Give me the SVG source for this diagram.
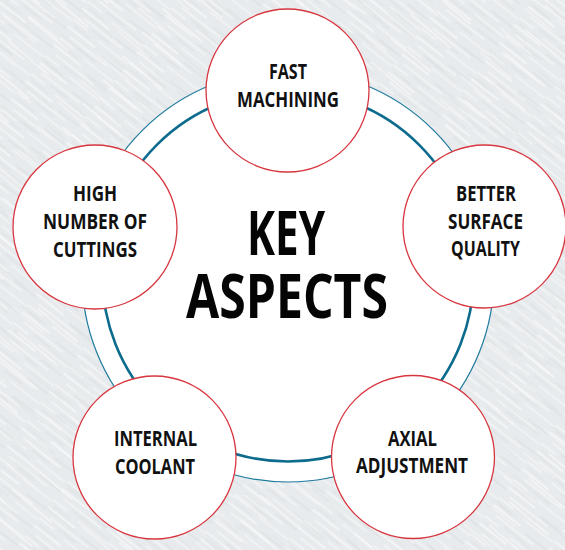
<svg xmlns="http://www.w3.org/2000/svg" width="565" height="550" viewBox="0 0 565 550">
  <defs>
    <!-- brushed-metal streaks, two layers with different periods -->
    <pattern id="brushed" patternUnits="userSpaceOnUse" width="70" height="23" patternTransform="rotate(38)">
      <rect width="70" height="23" fill="#e8ebed"/>
      <line x1="0" y1="2" x2="34" y2="2" stroke="#f6f7f8" stroke-width="1.3"/>
      <line x1="44" y1="5" x2="70" y2="5" stroke="#dadde0" stroke-width="0.9"/>
      <line x1="8" y1="9" x2="56" y2="9" stroke="#f8f9fa" stroke-width="1.1"/>
      <line x1="22" y1="13" x2="44" y2="13" stroke="#d9dce0" stroke-width="0.8"/>
      <line x1="0" y1="16" x2="18" y2="16" stroke="#f3f5f6" stroke-width="1.5"/>
      <line x1="32" y1="18" x2="70" y2="18" stroke="#f7f8f9" stroke-width="1"/>
      <line x1="4" y1="21" x2="26" y2="21" stroke="#dcdfe2" stroke-width="0.8"/>
    </pattern>
    <pattern id="brushed2" patternUnits="userSpaceOnUse" width="97" height="31" patternTransform="rotate(40) translate(13 7)">
      <line x1="0" y1="3" x2="41" y2="3" stroke="#fbfcfc" stroke-width="1.2" stroke-opacity="0.7"/>
      <line x1="55" y1="11" x2="97" y2="11" stroke="#d5d9dc" stroke-width="0.8" stroke-opacity="0.6"/>
      <line x1="20" y1="19" x2="72" y2="19" stroke="#fbfcfc" stroke-width="1.4" stroke-opacity="0.7"/>
      <line x1="6" y1="27" x2="30" y2="27" stroke="#d5d9dc" stroke-width="0.8" stroke-opacity="0.6"/>
    </pattern>
    <style>
      .bubble { fill: #ffffff; stroke: #d8363f; stroke-width: 1.3; }
      .label { font-family: "Open Sans", "Liberation Sans", sans-serif; font-weight: 700; font-size: 21px; fill: #111111; text-anchor: middle; }
      .title { font-family: "Open Sans", "Liberation Sans", sans-serif; font-weight: 700; font-size: 61px; fill: #050505; text-anchor: middle; }
    </style>
  </defs>

  <rect width="565" height="550" fill="url(#brushed)"/>
  <rect width="565" height="550" fill="url(#brushed2)"/>

  <!-- central hub with its double ring -->
  <g id="hub">
    <circle cx="288" cy="276" r="206" fill="#ffffff" stroke="#1f7b9d" stroke-width="1.2"/>
    <circle cx="288" cy="276" r="185.5" fill="none" stroke="#0d6b8d" stroke-width="2.6"/>
    <text class="title" x="286" y="255" textLength="78" lengthAdjust="spacingAndGlyphs">KEY</text>
    <text class="title" x="287" y="318" textLength="202" lengthAdjust="spacingAndGlyphs">ASPECTS</text>
  </g>

  <g id="connectors"/>

  <g id="fast-machining">
    <circle class="bubble" cx="287.5" cy="90.5" r="81.5"/>
    <text class="label" x="288" y="79" textLength="38" lengthAdjust="spacingAndGlyphs">FAST</text>
    <text class="label" x="288" y="107" textLength="102" lengthAdjust="spacingAndGlyphs">MACHINING</text>
  </g>

  <g id="high-number-of-cuttings">
    <circle class="bubble" cx="95" cy="227" r="82"/>
    <text class="label" x="95" y="201" textLength="44" lengthAdjust="spacingAndGlyphs">HIGH</text>
    <text class="label" x="95" y="229" textLength="104" lengthAdjust="spacingAndGlyphs">NUMBER OF</text>
    <text class="label" x="95" y="257" textLength="84" lengthAdjust="spacingAndGlyphs">CUTTINGS</text>
  </g>

  <g id="better-surface-quality">
    <circle class="bubble" cx="484.5" cy="226.5" r="81.5"/>
    <text class="label" x="486" y="201" textLength="60" lengthAdjust="spacingAndGlyphs">BETTER</text>
    <text class="label" x="485.5" y="229" textLength="75" lengthAdjust="spacingAndGlyphs">SURFACE</text>
    <text class="label" x="485.5" y="256" textLength="69" lengthAdjust="spacingAndGlyphs">QUALITY</text>
  </g>

  <g id="internal-coolant">
    <circle class="bubble" cx="154.5" cy="457.5" r="81.5"/>
    <text class="label" x="155.5" y="446" textLength="83" lengthAdjust="spacingAndGlyphs">INTERNAL</text>
    <text class="label" x="155" y="474" textLength="80" lengthAdjust="spacingAndGlyphs">COOLANT</text>
  </g>

  <g id="axial-adjustment">
    <circle class="bubble" cx="413" cy="457" r="81.5"/>
    <text class="label" x="412.5" y="446" textLength="49" lengthAdjust="spacingAndGlyphs">AXIAL</text>
    <text class="label" x="412" y="473" textLength="112" lengthAdjust="spacingAndGlyphs">ADJUSTMENT</text>
  </g>
</svg>
